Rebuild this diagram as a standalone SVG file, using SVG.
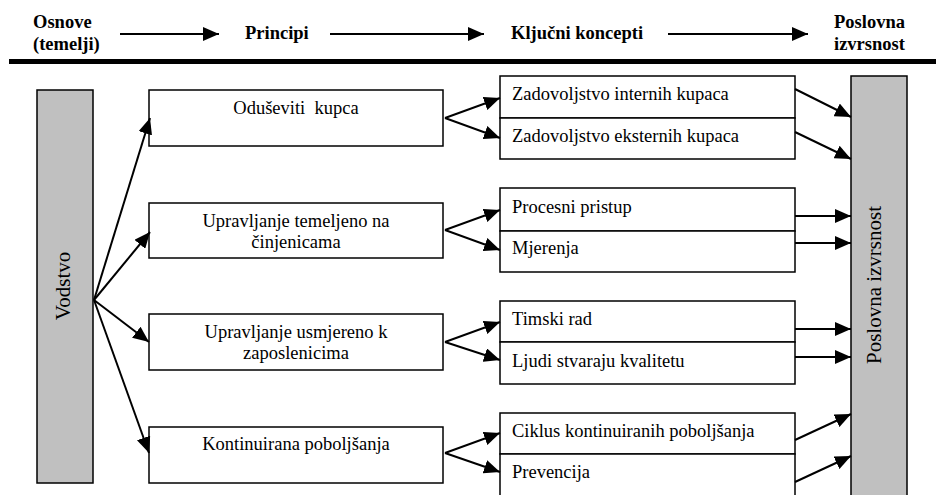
<svg xmlns="http://www.w3.org/2000/svg" width="936" height="495" viewBox="0 0 936 495">
<style>
.t{font-family:"Liberation Serif","Times New Roman",serif;font-size:18.5px;fill:#000}
.h{font-family:"Liberation Serif","Times New Roman",serif;font-size:18.5px;font-weight:bold;fill:#000}
.r{font-family:"Liberation Serif","Times New Roman",serif;font-size:21px;fill:#000}
.box{fill:#fff;stroke:#000;stroke-width:1.5}
.gbox{fill:#c0c0c0;stroke:#000;stroke-width:1.5}
.ln{stroke:#000;stroke-width:2;fill:none;marker-end:url(#ah)}
</style>
<defs>
<marker id="ah" markerUnits="userSpaceOnUse" markerWidth="17" markerHeight="14" refX="16" refY="7" orient="auto">
<path d="M0,0 L16,7 L0,14 z" fill="#000"/>
</marker>
</defs>
<rect width="936" height="495" fill="#fff"/>
<g id="header">
<text class="h" x="33" y="28">Osnove</text>
<text class="h" x="33" y="50">(temelji)</text>
<text class="h" x="245" y="39">Principi</text>
<text class="h" x="511" y="39">Ključni koncepti</text>
<text class="h" x="834" y="28">Poslovna</text>
<text class="h" x="834" y="50">izvrsnost</text>
<rect x="9" y="59" width="927" height="5" fill="#000"/>
</g>
<g id="vodstvo">
<rect class="gbox" x="37" y="90" width="56" height="393"/>
<text class="r" transform="translate(70,286) rotate(-90)" text-anchor="middle">Vodstvo</text>
</g>
<g id="poslovna-izvrsnost">
<rect class="gbox" x="851" y="76" width="56" height="430"/>
<text class="r" transform="translate(881,285) rotate(-90)" text-anchor="middle">Poslovna izvrsnost</text>
</g>
<g id="p1">
<rect class="box" x="149" y="90" width="294" height="56"/>
<text class="t" x="296" y="114" text-anchor="middle" xml:space="preserve">Oduševiti  kupca</text>
</g>
<g id="p2">
<rect class="box" x="149" y="203" width="294" height="55"/>
<text class="t" x="296" y="227" text-anchor="middle">Upravljanje temeljeno na</text>
<text class="t" x="296" y="248" text-anchor="middle">činjenicama</text>
</g>
<g id="p3">
<rect class="box" x="149" y="314" width="294" height="56"/>
<text class="t" x="296" y="338" text-anchor="middle">Upravljanje usmjereno k</text>
<text class="t" x="296" y="359" text-anchor="middle">zaposlenicima</text>
</g>
<g id="p4">
<rect class="box" x="149" y="427" width="294" height="56"/>
<text class="t" x="296" y="450" text-anchor="middle">Kontinuirana poboljšanja</text>
</g>
<g id="c1a"><rect class="box" x="500" y="76" width="295" height="42"/><text class="t" x="512" y="100">Zadovoljstvo internih kupaca</text></g>
<g id="c1b"><rect class="box" x="500" y="118" width="295" height="41"/><text class="t" x="512" y="142">Zadovoljstvo eksternih kupaca</text></g>
<g id="c2a"><rect class="box" x="500" y="188" width="295" height="43"/><text class="t" x="512" y="213">Procesni pristup</text></g>
<g id="c2b"><rect class="box" x="500" y="231" width="295" height="41"/><text class="t" x="512" y="254">Mjerenja</text></g>
<g id="c3a"><rect class="box" x="500" y="301" width="295" height="41"/><text class="t" x="512" y="325">Timski rad</text></g>
<g id="c3b"><rect class="box" x="500" y="342" width="295" height="42"/><text class="t" x="512" y="367">Ljudi stvaraju kvalitetu</text></g>
<g id="c4a"><rect class="box" x="500" y="413" width="295" height="41"/><text class="t" x="512" y="437">Ciklus kontinuiranih poboljšanja</text></g>
<g id="c4b"><rect class="box" x="500" y="454" width="295" height="50"/><text class="t" x="512" y="478">Prevencija</text></g>
<g id="connectors">
<line class="ln" x1="120" y1="34" x2="219" y2="34"/>
<line class="ln" x1="330" y1="34" x2="484" y2="34"/>
<line class="ln" x1="668" y1="34" x2="808" y2="34"/>
<line class="ln" x1="94" y1="300" x2="150" y2="118"/>
<line class="ln" x1="94" y1="300" x2="150" y2="232"/>
<line class="ln" x1="94" y1="300" x2="149" y2="342"/>
<line class="ln" x1="94" y1="300" x2="149" y2="453"/>
<line class="ln" x1="445" y1="118" x2="500" y2="98"/>
<line class="ln" x1="445" y1="118" x2="500" y2="138"/>
<line class="ln" x1="445" y1="230" x2="500" y2="210"/>
<line class="ln" x1="445" y1="230" x2="500" y2="250"/>
<line class="ln" x1="445" y1="342" x2="500" y2="322"/>
<line class="ln" x1="445" y1="342" x2="500" y2="360"/>
<line class="ln" x1="445" y1="453" x2="500" y2="433"/>
<line class="ln" x1="445" y1="453" x2="500" y2="472"/>
<line class="ln" x1="795" y1="89" x2="851" y2="117"/>
<line class="ln" x1="795" y1="132" x2="851" y2="159"/>
<line class="ln" x1="795" y1="216" x2="851" y2="216"/>
<line class="ln" x1="795" y1="243" x2="851" y2="243"/>
<line class="ln" x1="795" y1="329" x2="851" y2="329"/>
<line class="ln" x1="795" y1="357" x2="851" y2="357"/>
<line class="ln" x1="795" y1="440" x2="851" y2="414"/>
<line class="ln" x1="795" y1="482" x2="851" y2="456"/>
</g>
</svg>
